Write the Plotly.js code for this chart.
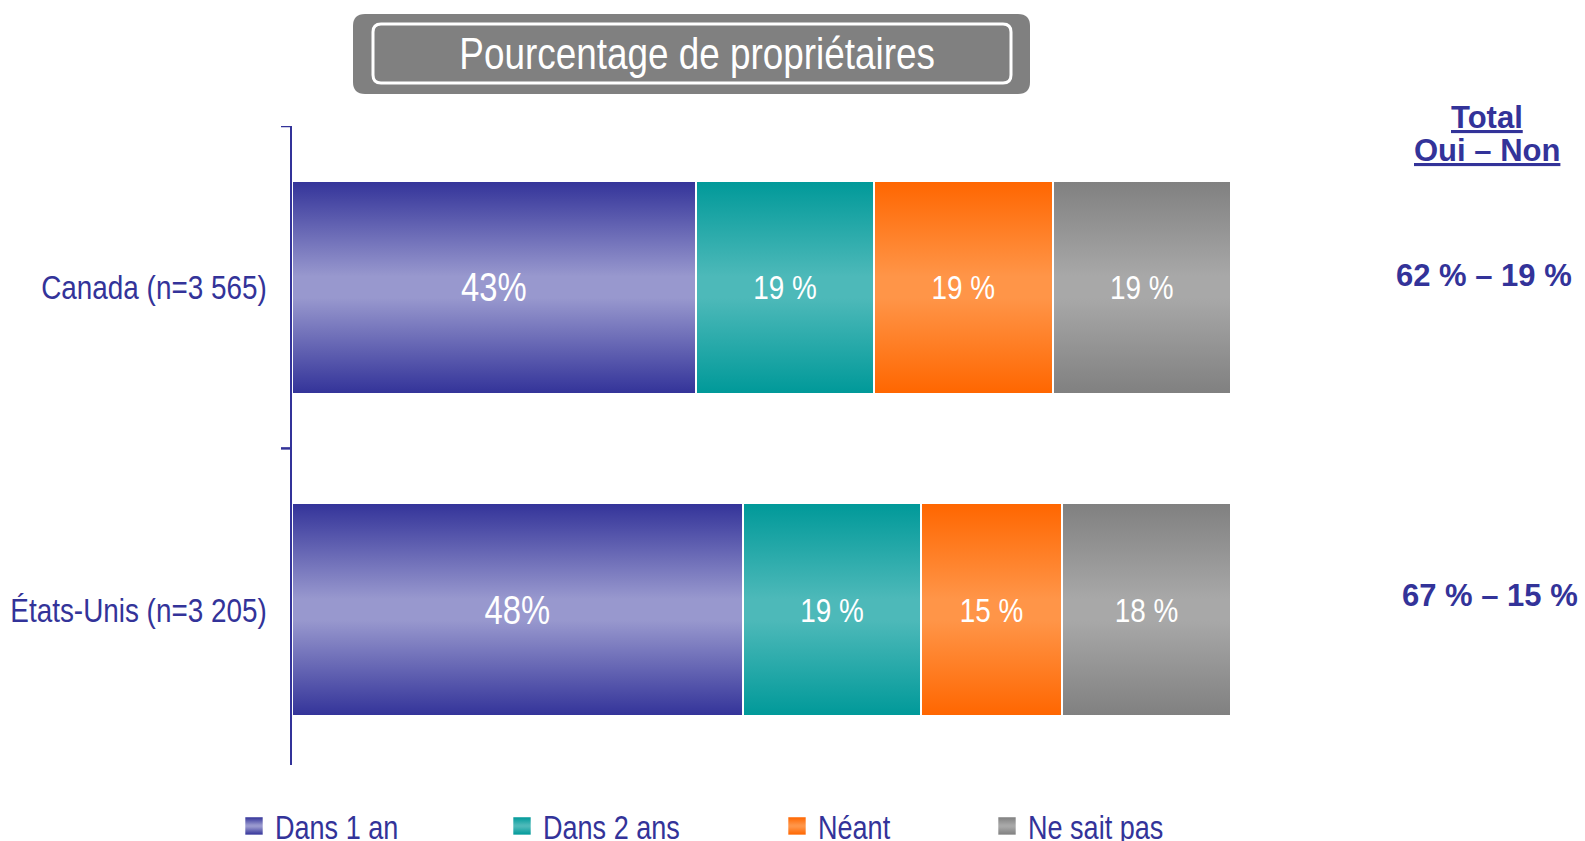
<!DOCTYPE html>
<html><head><meta charset="utf-8">
<script src="https://cdn.plot.ly/plotly-3.0.1.min.js"></script>
<style>html,body{margin:0;padding:0;background:#fff}#chart{width:1585px;height:841px}</style>
</head><body><div id="chart"></div>
<script>
// ---- data ----
const categories = ['Canada (n=3 565)', 'États-Unis (n=3 205)'];
const seriesNames = ['Dans 1 an', 'Dans 2 ans', 'Néant', 'Ne sait pas'];
const dans1an = [43, 48];
const dans2ans = [19, 19];
const neant = [19, 15];
const neSaitPas = [19, 18];
const labelsDans1an = ['43%', '48%'];
const labelsDans2ans = ['19 %', '19 %'];
const labelsNeant = ['19 %', '15 %'];
const labelsNeSaitPas = ['19 %', '18 %'];
const totalHeader = ['Total', 'Oui – Non'];
const totalsOuiNon = ['62 % – 19 %', '67 % – 15 %'];
const chartTitle = 'Pourcentage de propriétaires';

// ---- style ----
// Arial Narrow look: Arial metrics (Liberation Sans) compressed horizontally
const NARROW = '"Liberation Sans", Arial, sans-serif';
const NARROW_SCALE = 0.82;
const ARIAL = '"Liberation Sans", Arial, sans-serif';
const NAVY = '#333399';
const darkColors = ['#333399', '#009999', '#FF6600', '#808080'];
const lightColors = ['#9898CE', '#4DB9B9', '#FF9548', '#A8A8A8'];

const W = 1585, H = 841;
const M = {l: 292, r: 354, t: 126, b: 76, autoexpand: false};
const PW = W - M.l - M.r, PH = H - M.t - M.b;
const px = x => (x - M.l) / PW;
const py = y => (H - M.b - y) / PH;

function roundRect(x0, y0, x1, y1, r) {
  const p = (x, y) => px(x).toFixed(5) + ',' + py(y).toFixed(5);
  return 'M' + p(x0 + r, y0) + ' L' + p(x1 - r, y0) + ' Q' + p(x1, y0) + ' ' + p(x1, y0 + r) +
    ' L' + p(x1, y1 - r) + ' Q' + p(x1, y1) + ' ' + p(x1 - r, y1) +
    ' L' + p(x0 + r, y1) + ' Q' + p(x0, y1) + ' ' + p(x0, y1 - r) +
    ' L' + p(x0, y0 + r) + ' Q' + p(x0, y0) + ' ' + p(x0 + r, y0) + ' Z';
}

const values = [dans1an, dans2ans, neant, neSaitPas];
const texts = [labelsDans1an, labelsDans2ans, labelsNeant, labelsNeSaitPas];
const legendIds = ['legend', 'legend2', 'legend3', 'legend4'];

const traces = values.map((v, i) => ({
  type: 'bar', orientation: 'h',
  name: seriesNames[i],
  x: v, y: categories,
  width: 0.66,
  text: texts[i],
  textposition: 'inside',
  insidetextanchor: 'middle',
  constraintext: 'none',
  textangle: 0,
  textfont: {family: NARROW, color: '#ffffff', size: i === 0 ? 40 : 34},
  marker: {color: darkColors[i], line: {color: '#ffffff', width: 2}},
  legend: legendIds[i],
  hoverinfo: 'skip'
}));

const legendX = [235, 503, 778, 988];
const legendY = 826;

const layout = {
  width: W, height: H,
  margin: M,
  paper_bgcolor: '#ffffff', plot_bgcolor: '#ffffff',
  barmode: 'stack',
  showlegend: true,
  xaxis: {range: [0, 100], visible: false, fixedrange: true},
  yaxis: {
    type: 'category', range: [1.482, -0.5],
    showline: true, linecolor: NAVY, linewidth: 2.5,
    ticks: '', showgrid: false, zeroline: false,
    ticklabelstandoff: 16,
    tickfont: {family: NARROW, size: 34, color: NAVY}
  },
  shapes: [
    {type: 'path', xref: 'paper', yref: 'paper', path: roundRect(353, 14, 1030, 94, 12),
     fillcolor: '#808080', line: {width: 0}},
    {type: 'path', xref: 'paper', yref: 'paper', path: roundRect(373, 24, 1011, 83, 8),
     fillcolor: 'rgba(0,0,0,0)', line: {color: '#ffffff', width: 3}},
    {type: 'line', xref: 'paper', yref: 'y', x0: px(281), x1: px(292), y0: -0.5, y1: -0.5,
     line: {color: NAVY, width: 2.5}},
    {type: 'line', xref: 'paper', yref: 'y', x0: px(281), x1: px(292), y0: 0.5, y1: 0.5,
     line: {color: NAVY, width: 2.5}}
  ],
  annotations: [
    {xref: 'paper', yref: 'paper', x: px(697), y: py(54), text: chartTitle, showarrow: false,
     xanchor: 'center', yanchor: 'middle', font: {family: NARROW, size: 45, color: '#ffffff'}},
    {xref: 'paper', yref: 'paper', x: px(1487), y: py(117), text: '<u>' + totalHeader[0] + '</u>', showarrow: false,
     xanchor: 'center', yanchor: 'middle', font: {family: ARIAL, size: 31, color: NAVY, weight: 'bold'}},
    {xref: 'paper', yref: 'paper', x: px(1487), y: py(150), text: '<u>' + totalHeader[1] + '</u>', showarrow: false,
     xanchor: 'center', yanchor: 'middle', font: {family: ARIAL, size: 31, color: NAVY, weight: 'bold'}},
    {xref: 'paper', yref: 'y', x: px(1484), y: categories[0], yshift: 12, text: '<b>' + totalsOuiNon[0] + '</b>', showarrow: false,
     xanchor: 'center', yanchor: 'middle', font: {family: ARIAL, size: 31, color: NAVY}},
    {xref: 'paper', yref: 'y', x: px(1490), y: categories[1], yshift: 14, text: '<b>' + totalsOuiNon[1] + '</b>', showarrow: false,
     xanchor: 'center', yanchor: 'middle', font: {family: ARIAL, size: 31, color: NAVY}}
  ]
};
legendIds.forEach((id, i) => {
  layout[id] = {
    orientation: 'h', x: px(legendX[i]), y: py(legendY), xanchor: 'left', yanchor: 'middle',
    font: {family: NARROW, size: 33, color: NAVY}, bgcolor: 'rgba(0,0,0,0)', borderwidth: 0
  };
});

function compress(el, s) {
  if (el.getAttribute('data-narrow')) return;
  el.setAttribute('data-narrow', '1');
  const x = parseFloat(el.getAttribute('x')) || 0;
  const t = el.getAttribute('transform') || '';
  el.setAttribute('transform', (t + ' translate(' + x + ',0) scale(' + s + ',1) translate(' + (-x) + ',0)').trim());
}

function decorate(gd) {
  const ns = 'http://www.w3.org/2000/svg';
  if (!document.getElementById('bargrad0')) {
    const svg = gd.querySelector('svg.main-svg');
    let defs = svg.querySelector('defs');
    if (!defs) { defs = document.createElementNS(ns, 'defs'); svg.insertBefore(defs, svg.firstChild); }
    darkColors.forEach((c, i) => {
      const g = document.createElementNS(ns, 'linearGradient');
      g.setAttribute('id', 'bargrad' + i);
      g.setAttribute('x1', '0'); g.setAttribute('y1', '0'); g.setAttribute('x2', '0'); g.setAttribute('y2', '1');
      [[0, c], [0.45, lightColors[i]], [0.55, lightColors[i]], [1, c]].forEach(([o, col]) => {
        const s = document.createElementNS(ns, 'stop');
        s.setAttribute('offset', o); s.setAttribute('stop-color', col);
        g.appendChild(s);
      });
      defs.appendChild(g);
    });
  }
  gd.querySelectorAll('.barlayer .trace').forEach((tr, i) => {
    tr.querySelectorAll('.point path').forEach(p => { p.style.fill = 'url(#bargrad' + i + ')'; });
  });
  legendIds.forEach((id, i) => {
    gd.querySelectorAll('g.' + id + ' .legendpoints path').forEach(p => {
      p.style.fill = 'url(#bargrad' + i + ')';
      p.style.strokeWidth = '0';
      p.setAttribute('transform', 'translate(19,0) scale(1.45)');
    });
    gd.querySelectorAll('g.' + id + ' text').forEach(el => compress(el, NARROW_SCALE));
  });
  gd.querySelectorAll('g.ytick text, text.bartext, text.legendtext').forEach(el => compress(el, NARROW_SCALE));
  const titleText = gd.querySelector('.annotation[data-index="0"] text');
  if (titleText) compress(titleText, NARROW_SCALE);
}

Plotly.newPlot('chart', traces, layout, {staticPlot: true, displayModeBar: false}).then(gd => {
  decorate(gd);
  setTimeout(() => decorate(gd), 50);
  setTimeout(() => decorate(gd), 300);
});
</script></body></html>
